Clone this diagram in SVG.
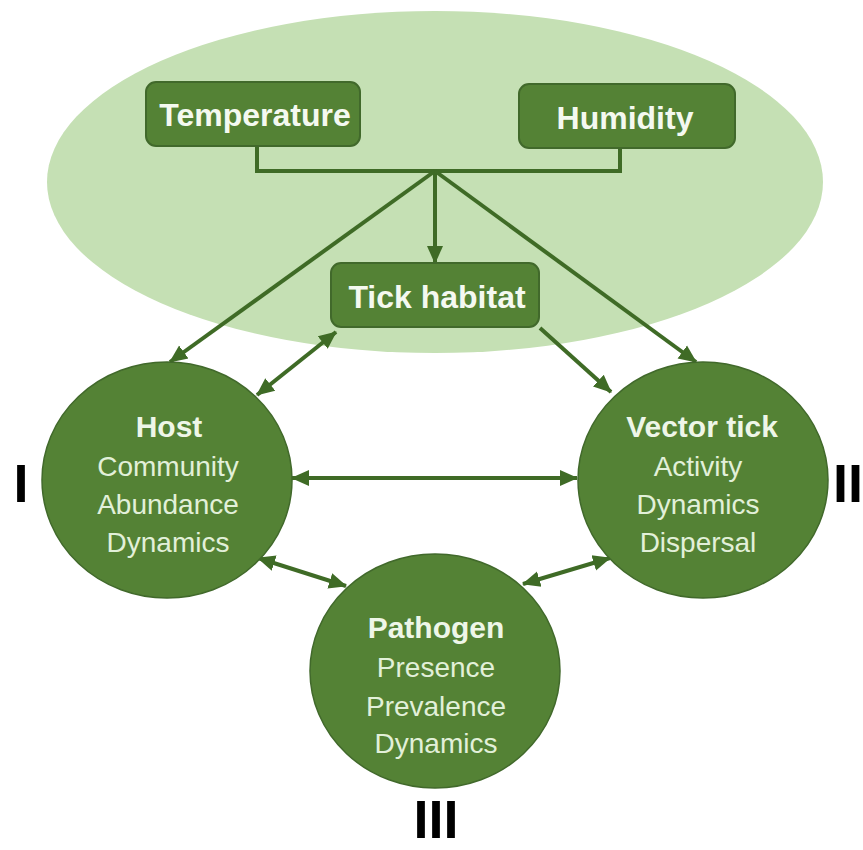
<svg xmlns="http://www.w3.org/2000/svg" width="863" height="850" viewBox="0 0 863 850">
<style>
.bg{fill:#c5e0b4}
.box{fill:#548235;stroke:#41692b;stroke-width:2}
.circ{fill:#548235;stroke:#41692b;stroke-width:1.5}
.bt{font-family:"Liberation Sans",Arial,sans-serif;font-weight:bold;font-size:32px;fill:#f4f9f0;text-anchor:middle}
.ct{font-family:"Liberation Sans",Arial,sans-serif;font-weight:bold;font-size:30px;fill:#eef6e8;text-anchor:middle}
.cl{font-family:"Liberation Sans",Arial,sans-serif;font-size:28px;fill:#e2f0d9;text-anchor:middle}
.rn{font-family:"Liberation Sans",Arial,sans-serif;font-weight:bold;font-size:54px;fill:#000}
.ln{fill:none;stroke:#3f6b26;stroke-width:4}
</style>
<defs>
<marker id="ah" markerUnits="userSpaceOnUse" markerWidth="18" markerHeight="18" viewBox="0 0 18 18" refX="17" refY="9" orient="auto-start-reverse">
<path d="M0,1 L18,9 L0,17 z" fill="#3f6b26"/>
</marker>
</defs>
<ellipse class="bg" cx="435" cy="182" rx="388" ry="171"/>
<g id="connectors">
<polyline class="ln" points="257,146 257,171 620,171 620,148"/>
<line class="ln" x1="435" y1="171" x2="170" y2="362" marker-end="url(#ah)"/>
<line class="ln" x1="435" y1="171" x2="435" y2="263" marker-end="url(#ah)"/>
<line class="ln" x1="435" y1="171" x2="696" y2="362" marker-end="url(#ah)"/>
<line class="ln" x1="257" y1="395" x2="336" y2="332" marker-start="url(#ah)" marker-end="url(#ah)"/>
<line class="ln" x1="540" y1="328" x2="611" y2="392" marker-end="url(#ah)"/>
<line class="ln" x1="292" y1="478" x2="577" y2="478" marker-start="url(#ah)" marker-end="url(#ah)"/>
<line class="ln" x1="258" y1="558" x2="346" y2="586" marker-start="url(#ah)" marker-end="url(#ah)"/>
<line class="ln" x1="523" y1="584" x2="610" y2="558" marker-start="url(#ah)" marker-end="url(#ah)"/>
</g>
<g id="temperature">
<rect class="box" x="146" y="82" width="214" height="64" rx="10"/>
<text class="bt" x="255" y="126">Temperature</text>
</g>
<g id="humidity">
<rect class="box" x="519" y="84" width="216" height="64" rx="10"/>
<text class="bt" x="625" y="129">Humidity</text>
</g>
<g id="tick-habitat">
<rect class="box" x="331" y="263" width="208" height="64" rx="10"/>
<text class="bt" x="437" y="308">Tick habitat</text>
</g>
<g id="host">
<ellipse class="circ" cx="167" cy="480" rx="125" ry="118"/>
<text class="ct" x="169" y="437">Host</text>
<text class="cl" x="168" y="476">Community</text>
<text class="cl" x="168" y="514">Abundance</text>
<text class="cl" x="168" y="552">Dynamics</text>
</g>
<g id="vector-tick">
<ellipse class="circ" cx="703" cy="480" rx="125" ry="118"/>
<text class="ct" x="702" y="437">Vector tick</text>
<text class="cl" x="698" y="476">Activity</text>
<text class="cl" x="698" y="514">Dynamics</text>
<text class="cl" x="698" y="552">Dispersal</text>
</g>
<g id="pathogen">
<ellipse class="circ" cx="435" cy="671" rx="125" ry="117"/>
<text class="ct" x="436" y="638">Pathogen</text>
<text class="cl" x="436" y="677">Presence</text>
<text class="cl" x="436" y="716">Prevalence</text>
<text class="cl" x="436" y="753">Dynamics</text>
</g>
<g id="labels">
<text class="rn" x="21" y="502" text-anchor="middle">I</text>
<text class="rn" x="833" y="502">II</text>
<text class="rn" x="436" y="838" text-anchor="middle">III</text>
</g>
</svg>
